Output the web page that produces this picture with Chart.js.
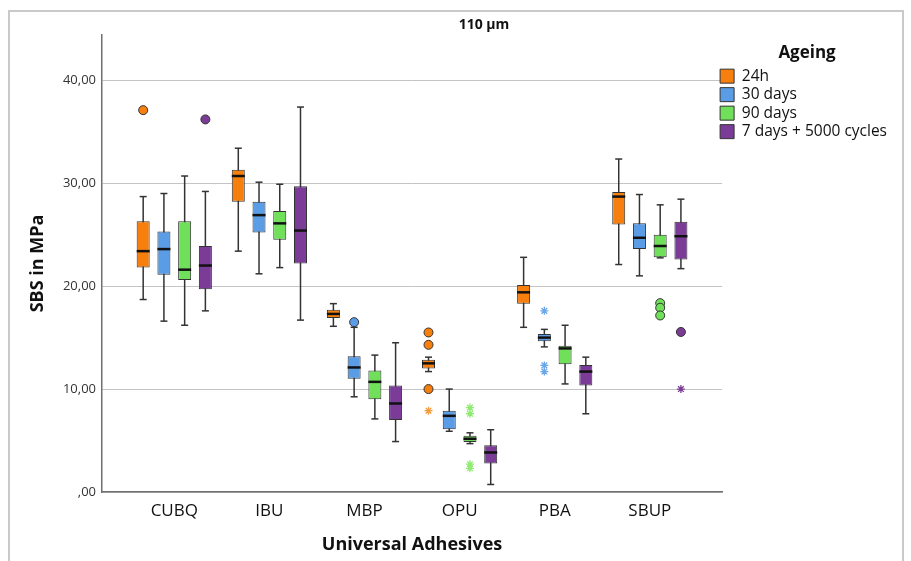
<!DOCTYPE html>
<html>
<head>
<meta charset="utf-8">
<script src="https://cdn.jsdelivr.net/npm/chart.js@4.4.0/dist/chart.umd.min.js"></script>
<style>
  html, body { margin: 0; padding: 0; background: #ffffff; }
  #wrap { position: relative; width: 911px; height: 561px; overflow: hidden; }
  #frame { position: absolute; left: 8px; top: 10px; width: 896px; height: 600px; border: 2px solid #cacaca; box-sizing: border-box; }
  #c { position: absolute; left: 0; top: 0; }
</style>
</head>
<body>
<div id="wrap">
  <div id="frame"></div>
  <canvas id="c" width="911" height="561"></canvas>
</div>
<script>
// ---------- data ----------
const chartTitle = '110 µm';
const categories = ['CUBQ', 'IBU', 'MBP', 'OPU', 'PBA', 'SBUP'];
const seriesNames = ['24h', '30 days', '90 days', '7 days + 5000 cycles'];
const yTickValues = [0, 10, 20, 30, 40];
const yTickLabels = [',00', '10,00', '20,00', '30,00', '40,00'];

// per series (24h, 30 days, 90 days, 7 days + 5000 cycles), per category
const whiskerLow = [
  [18.7, 23.4, 16.1, 11.7, 16.0, 22.1],
  [16.6, 21.2, 9.25, 5.9, 14.1, 21.0],
  [16.2, 21.8, 7.1, 4.7, 10.5, 22.75],
  [17.6, 16.7, 4.9, 0.73, 7.6, 21.7]
];
const quartile1 = [
  [21.8, 28.2, 16.9, 12.0, 18.3, 26.0],
  [21.1, 25.2, 11.0, 6.1, 14.65, 23.6],
  [20.6, 24.5, 9.0, 4.85, 12.4, 22.8],
  [19.7, 22.2, 7.0, 2.77, 10.35, 22.6]
];
const medians = [
  [23.4, 30.7, 17.3, 12.5, 19.4, 28.7],
  [23.6, 26.9, 12.1, 7.4, 15.0, 24.7],
  [21.6, 26.1, 10.7, 5.17, 13.95, 23.9],
  [22.0, 25.4, 8.6, 3.84, 11.7, 24.85]
];
const quartile3 = [
  [26.3, 31.3, 17.7, 12.85, 20.1, 29.15],
  [25.3, 28.2, 13.2, 7.9, 15.35, 26.1],
  [26.3, 27.3, 11.8, 5.46, 14.2, 25.0],
  [23.9, 29.7, 10.35, 4.55, 12.35, 26.25]
];
const whiskerHigh = [
  [28.7, 33.4, 18.3, 13.1, 22.8, 32.35],
  [29.0, 30.1, 16.0, 10.0, 15.8, 28.9],
  [30.7, 29.9, 13.3, 5.75, 16.2, 27.9],
  [29.2, 37.4, 14.5, 6.05, 13.1, 28.45]
];
// outliers as [categoryIndex, value]
const outliersCircle = [
  [[0, 37.1], [3, 15.5], [3, 14.3], [3, 10.0]],
  [[2, 16.5]],
  [[5, 18.35], [5, 17.9], [5, 17.15]],
  [[0, 36.2], [5, 15.55]]
];
const outliersExtreme = [
  [[3, 7.9]],
  [[4, 17.6], [4, 12.3], [4, 11.7]],
  [[3, 8.2], [3, 7.6], [3, 2.7], [3, 2.3]],
  [[5, 10.0]]
];

// ---------- styles ----------
const boxColors = ['#F77F0E', '#5A9CE6', '#70E05A', '#7B3C97'];
const starColors = ['#F59A3A', '#6AA6E8', '#8FEA72', '#7B3C97'];
const groupStep = 0.218;
const off = j => (j - 1.5) * groupStep;

function draw() {
  Chart.defaults.font.family = "'Open Sans', 'DejaVu Sans', sans-serif";
  Chart.defaults.color = '#222';

  const datasets = [];
  const boxDatasetIdx = [];
  seriesNames.forEach((name, j) => {
    datasets.push({
      type: 'bar', label: name + ' whisker',
      data: categories.map((c, i) => ({ x: i + off(j), y: [whiskerLow[j][i], whiskerHigh[j][i]] })),
      backgroundColor: '#333333', borderWidth: 0,
      barPercentage: 1, maxBarThickness: 1.5, grouped: false, order: 10
    });
    boxDatasetIdx.push(datasets.length);
    datasets.push({
      type: 'bar', label: name,
      data: categories.map((c, i) => ({ x: i + off(j), y: [quartile1[j][i], quartile3[j][i]] })),
      backgroundColor: boxColors[j], borderColor: '#333333', borderWidth: 1, borderSkipped: false,
      barPercentage: 1, maxBarThickness: 13, grouped: false, order: 8
    });
    const caps = [];
    categories.forEach((c, i) => {
      caps.push({ x: i + off(j), y: whiskerLow[j][i] });
      caps.push({ x: i + off(j), y: whiskerHigh[j][i] });
    });
    datasets.push({
      type: 'scatter', label: name + ' caps', data: caps,
      pointStyle: 'line', pointRadius: 3.5, borderColor: '#333333', borderWidth: 1.5, order: 6
    });
    datasets.push({
      type: 'scatter', label: name + ' median',
      data: categories.map((c, i) => ({ x: i + off(j), y: medians[j][i] })),
      pointStyle: 'line', pointRadius: 6.5, borderColor: '#111111', borderWidth: 2.5, order: 4
    });
    datasets.push({
      type: 'scatter', label: name + ' outliers',
      data: outliersCircle[j].map(p => ({ x: p[0] + off(j), y: p[1] })),
      pointStyle: 'circle', pointRadius: 4.5, backgroundColor: boxColors[j],
      borderColor: '#333333', borderWidth: 1, order: 2
    });
    datasets.push({
      type: 'scatter', label: name + ' extremes',
      data: outliersExtreme[j].map(p => ({ x: p[0] + off(j), y: p[1] })),
      pointStyle: 'star', pointRadius: 4, borderColor: starColors[j], borderWidth: 1.3, order: 2
    });
  });

  const titlePlugin = {
    id: 'topTitle',
    afterLayout(chart) {
      // nudge the legend block left so its swatches start at the grid's end
      const lg = chart.legend;
      if (lg) { lg.left -= 5; lg.right -= 5; }
    },
    afterDraw(chart) {
      const ctx = chart.ctx;
      ctx.save();
      ctx.font = "bold 14px 'Open Sans', sans-serif";
      ctx.fillStyle = '#111';
      ctx.textAlign = 'center';
      ctx.textBaseline = 'middle';
      ctx.fillText(chartTitle, 484, 25);
      ctx.restore();
    }
  };

  new Chart(document.getElementById('c'), {
    type: 'bar',
    data: { datasets },
    plugins: [titlePlugin],
    options: {
      responsive: false, animation: false, devicePixelRatio: 1, events: [],
      layout: { padding: { top: 35, right: 9, left: 0, bottom: 0 } },
      plugins: {
        tooltip: { enabled: false },
        title: { display: false },
        legend: {
          position: 'right', align: 'start',
          title: { display: true, text: 'Ageing', color: '#111',
                   font: { size: 17, weight: 'bold' }, padding: { top: 9.5, bottom: 0.5 } },
          labels: {
            filter: item => boxDatasetIdx.includes(item.datasetIndex),
            boxWidth: 14, boxHeight: 14, padding: 3, color: '#111',
            font: { size: 15.5 }
          }
        }
      },
      scales: {
        x: {
          type: 'linear', min: -0.76, max: 5.76, offset: false,
          afterBuildTicks: s => { s.ticks = categories.map((c, i) => ({ value: i })); },
          afterFit: s => { s.height = 69; },
          ticks: { callback: v => categories[v], color: '#111', font: { size: 17 }, padding: 1, autoSkip: false, maxRotation: 0 },
          grid: { display: false, offset: false },
          border: { display: true, color: '#6f6f6f', width: 1.5 },
          title: { display: true, text: 'Universal Adhesives', color: '#111',
                   font: { size: 18, weight: 'bold' }, padding: { top: 5, bottom: 5 } }
        },
        y: {
          type: 'linear', min: 0, max: 44.4,
          afterBuildTicks: s => { s.ticks = yTickValues.map(v => ({ value: v })); },
          afterFit: s => { s.width = 102; },
          ticks: { callback: v => yTickLabels[yTickValues.indexOf(v)], color: '#333', font: { size: 13 }, padding: 6 },
          grid: { color: '#c4c4c4', lineWidth: 1, drawTicks: false },
          border: { display: true, color: '#6f6f6f', width: 1.5 },
          title: { display: true, text: 'SBS in MPa', color: '#111',
                   font: { size: 18, weight: 'bold' }, padding: { top: 27, bottom: 0 } }
        }
      }
    }
  });
}

if (document.fonts && document.fonts.load) {
  Promise.all([
    document.fonts.load("15px 'Open Sans'"),
    document.fonts.load("bold 15px 'Open Sans'")
  ]).then(draw, draw);
} else {
  draw();
}
</script>
</body>
</html>
